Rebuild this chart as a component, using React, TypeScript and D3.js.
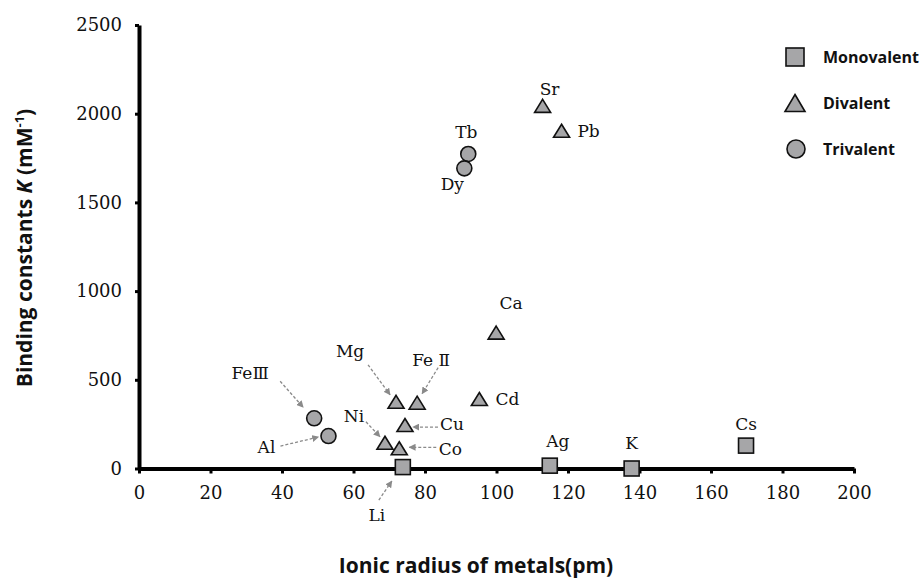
import React, { useEffect, useRef } from 'react';
import * as d3 from 'd3';

// ionic radius (pm) vs binding constant K (mM^-1)
const monovalent = [
  { name: 'Li', r: 73.8, k: 8 },
  { name: 'Ag', r: 114.9, k: 16 },
  { name: 'K', r: 137.8, k: 0 },
  { name: 'Cs', r: 169.8, k: 129 },
];

const divalent = [
  { name: 'Mg', r: 71.9, k: 376 },
  { name: 'Fe Ⅱ', r: 77.8, k: 371 },
  { name: 'Cu', r: 74.4, k: 245 },
  { name: 'Ni', r: 68.8, k: 145 },
  { name: 'Co', r: 72.8, k: 114 },
  { name: 'Cd', r: 95.2, k: 392 },
  { name: 'Ca', r: 99.9, k: 766 },
  { name: 'Sr', r: 112.9, k: 2044 },
  { name: 'Pb', r: 118.2, k: 1904 },
];

const trivalent = [
  { name: 'FeⅢ', r: 49.0, k: 283 },
  { name: 'Al', r: 53.0, k: 183 },
  { name: 'Tb', r: 92.1, k: 1773 },
  { name: 'Dy', r: 91.0, k: 1692 },
];

const xTicks = [0, 20, 40, 60, 80, 100, 120, 140, 160, 180, 200];
const yTicks = [0, 500, 1000, 1500, 2000, 2500];
const legendLabels = ['Monovalent', 'Divalent', 'Trivalent'];

// label placement (pixel offsets from the marker) and optional leader arrows
const labelLayout: Record<string, { dx: number; dy: number; arrow?: number[] }> = {
  Li: { dx: -26, dy: 48, arrow: [-24, 33, -11, 14] },
  Ag: { dx: 8, dy: -25 },
  K: { dx: 0, dy: -26 },
  Cs: { dx: 0, dy: -22 },
  Sr: { dx: 7, dy: -17 },
  Pb: { dx: 27, dy: 0 },
  Ca: { dx: 15, dy: -30 },
  Cd: { dx: 28, dy: 0 },
  Mg: { dx: -46, dy: -51, arrow: [-28, -37, -6, -7] },
  'Fe Ⅱ': { dx: 14, dy: -43, arrow: [21, -35, 5, -9] },
  Cu: { dx: 47, dy: -1, arrow: [33, 2, 8, 2] },
  Co: { dx: 51, dy: 1, arrow: [37, -1, 10, -1] },
  Ni: { dx: -31, dy: -27, arrow: [-19, -21, -5, -6] },
  'FeⅢ': { dx: -64, dy: -45, arrow: [-34, -37, -11, -11] },
  Al: { dx: -62, dy: 11, arrow: [-48, 10, -10, 1] },
  Tb: { dx: -2, dy: -22 },
  Dy: { dx: -12, dy: 16 },
};

const FILL = '#a6a6a8';
const SERIF = "'DejaVu Serif', 'Liberation Serif', serif";
const SANS = "'Open Sans', 'Noto Sans', sans-serif";

export default function App() {
  const svgRef = useRef<SVGSVGElement>(null);

  useEffect(() => {
    if (!svgRef.current) return;
    const svg = d3.select(svgRef.current);
    svg.selectAll('*').remove();

    const width = 922;
    const height = 578;
    svg.attr('width', width).attr('height', height);

    const x = d3.scaleLinear().domain([0, 200]).range([139, 854]);
    const y = d3.scaleLinear().domain([0, 2500]).range([468.5, 25]);

    // arrowhead marker
    svg
      .append('defs')
      .append('marker')
      .attr('id', 'arrow')
      .attr('viewBox', '0 0 10 10')
      .attr('refX', 9)
      .attr('refY', 5)
      .attr('markerWidth', 7)
      .attr('markerHeight', 7)
      .attr('markerUnits', 'userSpaceOnUse')
      .attr('orient', 'auto')
      .append('path')
      .attr('d', 'M0,0 L10,5 L0,10 z')
      .attr('fill', '#8a8a8a');

    // Y axis
    const yAxis = svg
      .append('g')
      .attr('transform', `translate(${x(0)},0)`)
      .call(
        d3
          .axisLeft(y)
          .tickValues(yTicks)
          .tickFormat(d3.format('d'))
          .tickSize(4)
          .tickSizeOuter(0)
          .tickPadding(13)
      );
    yAxis.select('.domain').attr('stroke', '#000').attr('stroke-width', 4);
    yAxis.selectAll('.tick line').attr('stroke', '#000').attr('stroke-width', 3);
    yAxis
      .selectAll('.tick text')
      .style('font-family', SERIF)
      .style('font-size', '18px')
      .attr('fill', '#111');

    // X axis
    const xAxis = svg
      .append('g')
      .attr('transform', `translate(0,${y(0)})`)
      .call(
        d3
          .axisBottom(x)
          .tickValues(xTicks)
          .tickFormat(d3.format('d'))
          .tickSize(5)
          .tickSizeOuter(0)
          .tickPadding(13)
      );
    xAxis.select('.domain').attr('stroke', '#000').attr('stroke-width', 4);
    xAxis.selectAll('.tick line').attr('stroke', '#000').attr('stroke-width', 3);
    xAxis
      .selectAll('.tick text')
      .style('font-family', SERIF)
      .style('font-size', '18px')
      .attr('fill', '#111');

    // marker shapes
    const drawSquare = (g: any, cx: number, cy: number, s: number) =>
      g
        .append('rect')
        .attr('x', cx - s / 2)
        .attr('y', cy - s / 2)
        .attr('width', s)
        .attr('height', s)
        .attr('fill', FILL)
        .attr('stroke', '#111')
        .attr('stroke-width', 1.6);
    const drawTriangle = (g: any, cx: number, cy: number, w: number, h: number) =>
      g
        .append('path')
        .attr('d', `M${cx},${cy - h / 2} L${cx + w / 2},${cy + h / 2} L${cx - w / 2},${cy + h / 2} Z`)
        .attr('fill', FILL)
        .attr('stroke', '#111')
        .attr('stroke-width', 1.6);
    const drawCircle = (g: any, cx: number, cy: number, r: number) =>
      g
        .append('circle')
        .attr('cx', cx)
        .attr('cy', cy)
        .attr('r', r)
        .attr('fill', FILL)
        .attr('stroke', '#111')
        .attr('stroke-width', 1.6);

    const marks = svg.append('g');
    monovalent.forEach((d) => drawSquare(marks, x(d.r), y(d.k), 15));
    divalent.forEach((d) => drawTriangle(marks, x(d.r), y(d.k), 16, 13));
    trivalent.forEach((d) => drawCircle(marks, x(d.r), y(d.k), 7.5));

    // point labels and leader arrows
    const labels = svg.append('g');
    [...monovalent, ...divalent, ...trivalent].forEach((d) => {
      const px = x(d.r);
      const py = y(d.k);
      const lay = labelLayout[d.name];
      if (!lay) return;
      labels
        .append('text')
        .attr('x', px + lay.dx)
        .attr('y', py + lay.dy)
        .attr('text-anchor', 'middle')
        .attr('dominant-baseline', 'central')
        .attr('font-family', SERIF)
        .attr('font-size', 17)
        .attr('fill', '#111')
        .text(d.name);
      if (lay.arrow) {
        const [x1, y1, x2, y2] = lay.arrow;
        labels
          .append('line')
          .attr('x1', px + x1)
          .attr('y1', py + y1)
          .attr('x2', px + x2)
          .attr('y2', py + y2)
          .attr('stroke', '#8a8a8a')
          .attr('stroke-width', 1.3)
          .attr('stroke-dasharray', '3,2')
          .attr('marker-end', 'url(#arrow)');
      }
    });

    // legend
    const legend = svg.append('g');
    const legendY = [57, 103, 149];
    drawSquare(legend, 795, legendY[0], 18);
    drawTriangle(legend, 795, legendY[1], 20, 17);
    drawCircle(legend, 796, legendY[2], 9);
    legendLabels.forEach((t, i) => {
      legend
        .append('text')
        .attr('x', 823)
        .attr('y', legendY[i])
        .attr('dominant-baseline', 'central')
        .attr('font-family', SANS)
        .attr('font-weight', 'bold')
        .attr('font-size', 16)
        .attr('fill', '#111')
        .text(t);
    });

    // axis titles
    svg
      .append('text')
      .attr('x', 476)
      .attr('y', 573)
      .attr('text-anchor', 'middle')
      .attr('font-family', SANS)
      .attr('font-weight', 'bold')
      .attr('font-size', 21)
      .attr('fill', '#111')
      .text('Ionic radius of metals(pm)');

    const yTitle = svg
      .append('text')
      .attr('transform', 'translate(32,248) rotate(-90)')
      .attr('text-anchor', 'middle')
      .attr('font-family', SANS)
      .attr('font-weight', 'bold')
      .attr('font-size', 21)
      .attr('fill', '#111');
    yTitle.append('tspan').text('Binding constants ');
    yTitle.append('tspan').attr('font-style', 'italic').text('K');
    yTitle.append('tspan').text(' (mM');
    yTitle.append('tspan').attr('font-size', 13).attr('dy', -8).text('-1');
    yTitle.append('tspan').attr('dy', 8).text(')');
  }, []);

  return (
    <div style={{ position: 'absolute', left: 0, top: 0, background: '#fff' }}>
      <svg ref={svgRef}></svg>
    </div>
  );
}
